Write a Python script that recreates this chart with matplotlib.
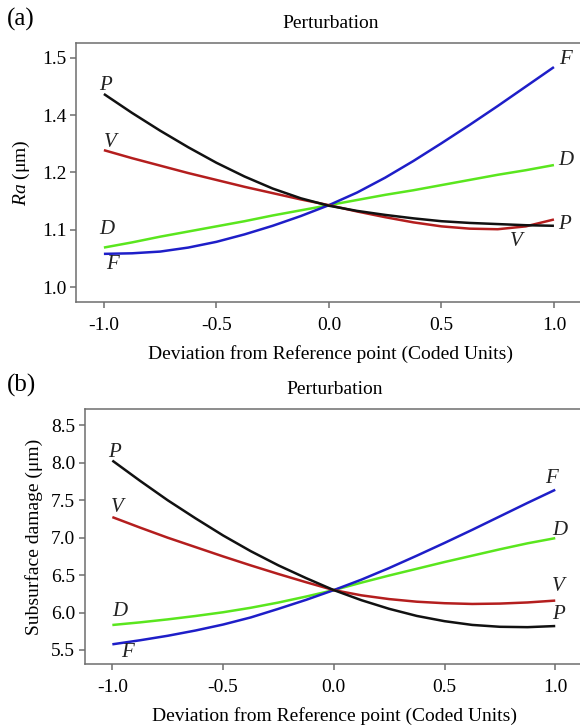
import matplotlib
matplotlib.use("Agg")
import matplotlib.pyplot as plt

plt.rcParams["font.family"] = ["Liberation Serif", "DejaVu Serif"]
plt.rcParams["mathtext.fontset"] = "custom"
plt.rcParams["mathtext.it"] = "Liberation Serif:italic"
plt.rcParams["mathtext.rm"] = "Liberation Serif"

# Coded deviation from the reference point
x = [-1.0, -0.875, -0.75, -0.625, -0.5, -0.375, -0.25, -0.125, 0.0,
     0.125, 0.25, 0.375, 0.5, 0.625, 0.75, 0.875, 1.0]

# (a) Ra response, plotted on the axis scale (ticks below)
ra_P = [1.337, 1.304, 1.273, 1.244, 1.217, 1.193, 1.172, 1.155, 1.142,
        1.133, 1.126, 1.120, 1.115, 1.112, 1.110, 1.108, 1.107]
ra_V = [1.239, 1.225, 1.212, 1.199, 1.187, 1.175, 1.164, 1.153, 1.143,
        1.132, 1.122, 1.113, 1.106, 1.102, 1.101, 1.106, 1.118]
ra_D = [1.069, 1.078, 1.088, 1.097, 1.106, 1.115, 1.125, 1.134, 1.143,
        1.152, 1.161, 1.169, 1.178, 1.187, 1.196, 1.204, 1.213]
ra_F = [1.058, 1.059, 1.062, 1.069, 1.079, 1.092, 1.107, 1.124, 1.143,
        1.165, 1.191, 1.220, 1.251, 1.283, 1.316, 1.350, 1.384]
ra_ticks = [1.0, 1.1, 1.2, 1.3, 1.4]
ra_ticklabels = ["1.0", "1.1", "1.2", "1.4", "1.5"]

# (b) Subsurface damage response (um)
ssd_P = [8.03, 7.76, 7.50, 7.26, 7.03, 6.82, 6.63, 6.46, 6.30,
         6.165, 6.05, 5.955, 5.885, 5.835, 5.81, 5.805, 5.82]
ssd_V = [7.275, 7.135, 7.00, 6.875, 6.75, 6.63, 6.515, 6.405, 6.30,
         6.23, 6.18, 6.145, 6.125, 6.115, 6.12, 6.135, 6.16]
ssd_D = [5.834, 5.869, 5.909, 5.954, 6.004, 6.064, 6.134, 6.214, 6.30,
         6.40, 6.495, 6.585, 6.675, 6.76, 6.845, 6.925, 6.994]
ssd_F = [5.576, 5.63, 5.69, 5.76, 5.84, 5.935, 6.05, 6.17, 6.30,
         6.44, 6.595, 6.76, 6.93, 7.105, 7.285, 7.465, 7.64]
ssd_ticks = [5.5, 6.0, 6.5, 7.0, 7.5, 8.0, 8.5]

x_ticks = [-1.0, -0.5, 0.0, 0.5, 1.0]

colors = {"P": "#111111", "V": "#b41e1e", "D": "#5ae61e", "F": "#1e1ec8"}
spine_col = "#6e6e6e"

W, H = 580, 727
fig = plt.figure(figsize=(W / 100, H / 100), dpi=100)


def px_axes(left, top, right, bottom):
    return fig.add_axes([left / W, 1 - bottom / H, (right - left) / W, (bottom - top) / H])


def style(ax):
    for s in ax.spines.values():
        s.set_color(spine_col)
        s.set_linewidth(1.1)
    ax.tick_params(direction="out", length=4, width=1.1, color=spine_col,
                   labelsize=14)
    ax.tick_params(axis="x", pad=6.5)
    ax.tick_params(axis="y", pad=3)
    ax.set_xticks(x_ticks)
    ax.set_xticklabels(["-1.0", "-0.5", "0.0", "0.5", "1.0"])
    ax.set_xlabel("Deviation from Reference point (Coded Units)", fontsize=14, labelpad=8)


def label(ax, text, xv, yv, dx, dy):
    ax.annotate(text, (xv, yv), xytext=(dx, dy), textcoords="offset pixels",
                ha="center", va="center", fontsize=15, style="italic",
                color="#222222")


# ---------- panel (a) ----------
axa = px_axes(76, 43, 585, 302)
series_a = {"P": ra_P, "V": ra_V, "D": ra_D, "F": ra_F}
for k in ["D", "F", "V", "P"]:
    axa.plot(x, series_a[k], color=colors[k], lw=1.8, solid_capstyle="butt")
axa.set_xlim(-1.124, 1.138)
axa.set_ylim(0.974, 1.426)
axa.set_yticks(ra_ticks)
axa.set_yticklabels(ra_ticklabels)
style(axa)
axa.set_ylabel(r"$Ra$ (μm)", fontsize=14, labelpad=7)
axa.set_title("Perturbation", fontsize=14, pad=11)

label(axa, "P", x[0], ra_P[0], 2, 8)
label(axa, "V", x[0], ra_V[0], 6, 8)
label(axa, "D", x[0], ra_D[0], 3, 18)
label(axa, "F", x[0], ra_F[0], 9, -11)
label(axa, "F", x[-1], ra_F[-1], 12, 8)
label(axa, "D", x[-1], ra_D[-1], 12, 5)
label(axa, "P", x[-1], ra_P[-1], 11, 1)
label(axa, "V", x[-2], ra_V[-2], -10, -15)

# ---------- panel (b) ----------
axb = px_axes(85, 409, 585, 664)
series_b = {"P": ssd_P, "V": ssd_V, "D": ssd_D, "F": ssd_F}
for k in ["D", "F", "V", "P"]:
    axb.plot(x, series_b[k], color=colors[k], lw=1.8, solid_capstyle="butt")
axb.set_xlim(-1.1235, 1.1344)
axb.set_ylim(5.313, 8.719)
axb.set_yticks(ssd_ticks)
axb.set_yticklabels([f"{t:.1f}" for t in ssd_ticks])
style(axb)
axb.set_ylabel("Subsurface damage (μm)", fontsize=14, labelpad=6)
axb.set_title("Perturbation", fontsize=14, pad=11)

label(axb, "P", x[0], ssd_P[0], 2, 8)
label(axb, "V", x[0], ssd_V[0], 5, 10)
label(axb, "D", x[0], ssd_D[0], 7, 13)
label(axb, "F", x[0], ssd_F[0], 15, -8)
label(axb, "F", x[-1], ssd_F[-1], -4, 11)
label(axb, "D", x[-1], ssd_D[-1], 5, 8)
label(axb, "V", x[-1], ssd_V[-1], 3, 14)
label(axb, "P", x[-1], ssd_P[-1], 3, 12)

fig.text(7 / W, 1 - 19 / H, "(a)", fontsize=18, ha="left", va="center")
fig.text(7 / W, 1 - 385 / H, "(b)", fontsize=18, ha="left", va="center")

fig.savefig("out.png", dpi=100, facecolor="white")
